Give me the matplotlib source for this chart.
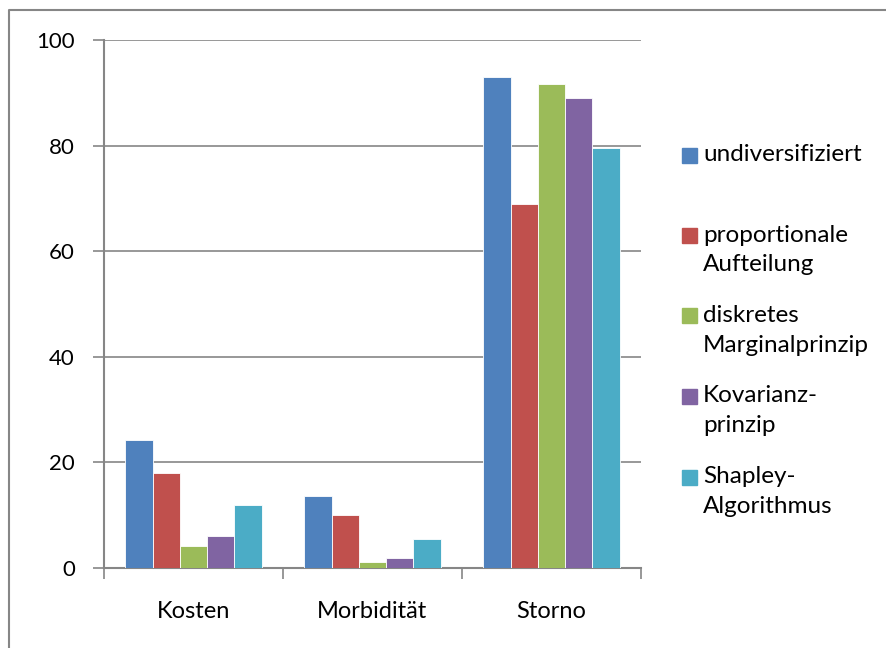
import matplotlib.pyplot as plt
from matplotlib.lines import Line2D
from matplotlib.patches import Rectangle
import numpy as np

categories = ["Kosten", "Morbidität", "Storno"]
series = ["undiversifiziert", "proportionale\nAufteilung", "diskretes\nMarginalprinzip",
          "Kovarianz-\nprinzip", "Shapley-\nAlgorithmus"]
values = {
    "undiversifiziert": [24.3, 13.6, 93.0],
    "proportionale\nAufteilung": [18.0, 10.1, 68.9],
    "diskretes\nMarginalprinzip": [4.1, 1.2, 91.7],
    "Kovarianz-\nprinzip": [6.1, 1.8, 89.1],
    "Shapley-\nAlgorithmus": [12.0, 5.5, 79.5],
}
colors = ["#4F81BD", "#C0504D", "#9BBB59", "#8064A2", "#4BACC6"]
yticks = [0, 20, 40, 60, 80, 100]

plt.rcParams["font.family"] = ["Lato", "DejaVu Sans"]
grey = "#868686"

fig = plt.figure(figsize=(8.87, 6.48), dpi=100)
ax = fig.add_axes([104 / 887, 80 / 648, 537 / 887, 528 / 648])

x = np.arange(len(categories))
width = 0.1527
for i, (name, color) in enumerate(zip(series, colors)):
    ax.bar(x + (i - 2) * width, values[name], width, color=color,
           edgecolor="white", linewidth=0.6, zorder=3)

ax.set_xlim(-0.5, len(categories) - 0.5)
ax.set_ylim(0, 100)
ax.set_yticks(yticks)
ax.set_yticklabels([str(v) for v in yticks], fontsize=16)
ax.set_xticks(x)
ax.set_xticklabels(categories, fontsize=17)
ax.set_xticks(np.arange(-0.5, len(categories)), minor=True)
ax.tick_params(axis="x", which="major", length=0, pad=24)
ax.tick_params(axis="x", which="minor", length=8, width=1.2, color=grey, direction="out")
ax.tick_params(axis="y", length=8, width=1.2, color=grey, pad=13)
ax.grid(axis="y", color=grey, linewidth=1.2, zorder=0)
ax.set_axisbelow(True)
for side in ("top", "right"):
    ax.spines[side].set_visible(False)
for side in ("left", "bottom"):
    ax.spines[side].set_color(grey)
    ax.spines[side].set_linewidth(1.5)

# legend drawn by hand so each entry sits on its own two-line slot
for i, (name, color) in enumerate(zip(series, colors)):
    y = 1 - (155 + i * 80.5) / 648
    fig.patches.append(Rectangle((682 / 887, y - 7.5 / 648), 15 / 887, 15 / 648,
                                 transform=fig.transFigure, color=color))
    fig.text(703 / 887, y + 11 / 648, name, fontsize=17.5, va="top", linespacing=1.52)

# outer chart border (only top and left visible in the crop)
fig.add_artist(Line2D([9 / 887, 9 / 887, 1], [0, 1 - 10 / 648, 1 - 10 / 648],
                      transform=fig.transFigure, color=grey, linewidth=1.5))

fig.savefig("out.png", dpi=100, facecolor="white")
